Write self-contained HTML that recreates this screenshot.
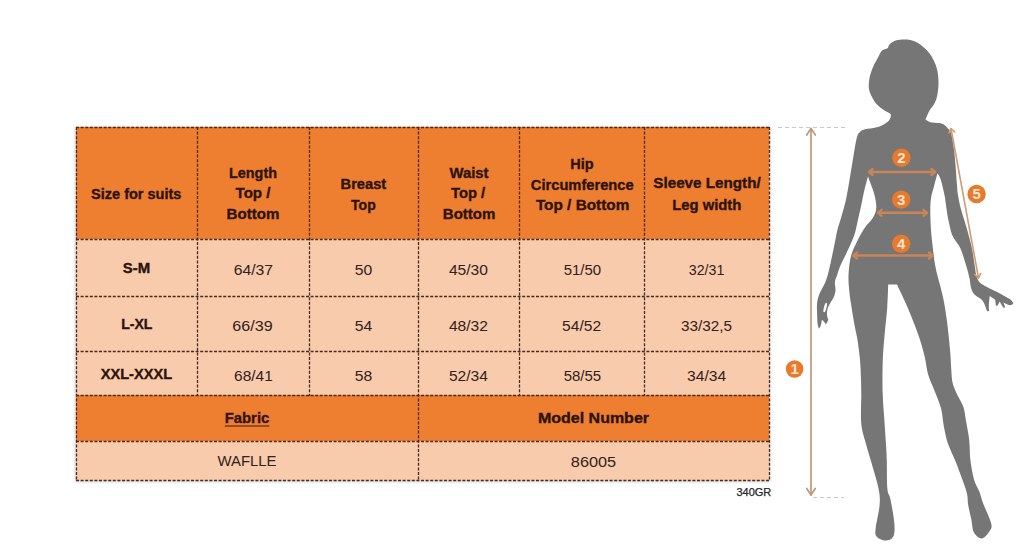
<!DOCTYPE html>
<html><head><meta charset="utf-8"><style>
html,body{margin:0;padding:0;background:#fff;}
body{width:1024px;height:548px;overflow:hidden;position:relative;}
svg{position:absolute;left:0;top:0;display:block;}
text{font-family:"Liberation Sans",sans-serif;}
</style></head><body>
<svg width="1024" height="548" viewBox="0 0 1024 548">
<defs><filter id="sh" x="-5%" y="-5%" width="110%" height="115%"><feGaussianBlur stdDeviation="1.5"/></filter></defs>
<rect x="75" y="127" width="695" height="355" fill="#000" opacity="0.18" filter="url(#sh)"/>
<rect x="76" y="127" width="693" height="112" fill="#EE7E30"/>
<rect x="76" y="239" width="693" height="156" fill="#F8CBAD"/>
<rect x="76" y="395" width="693" height="46" fill="#EE7E30"/>
<rect x="76" y="441" width="693" height="39" fill="#F8CBAD"/>
<line x1="76" y1="127.5" x2="770" y2="127.5" stroke="#4a2a1c" stroke-width="1.3" stroke-dasharray="3 1.6"/>
<line x1="76" y1="239.5" x2="770" y2="239.5" stroke="#4a2a1c" stroke-width="1.3" stroke-dasharray="3 1.6"/>
<line x1="76" y1="296.5" x2="770" y2="296.5" stroke="#4a2a1c" stroke-width="1.3" stroke-dasharray="3 1.6"/>
<line x1="76" y1="351.5" x2="770" y2="351.5" stroke="#4a2a1c" stroke-width="1.3" stroke-dasharray="3 1.6"/>
<line x1="76" y1="395.5" x2="770" y2="395.5" stroke="#4a2a1c" stroke-width="1.3" stroke-dasharray="3 1.6"/>
<line x1="76" y1="441.5" x2="770" y2="441.5" stroke="#4a2a1c" stroke-width="1.3" stroke-dasharray="3 1.6"/>
<line x1="76" y1="480.5" x2="770" y2="480.5" stroke="#4a2a1c" stroke-width="1.3" stroke-dasharray="3 1.6"/>
<line x1="197.5" y1="127" x2="197.5" y2="396" stroke="#4a2a1c" stroke-width="1.3" stroke-dasharray="3 1.6"/>
<line x1="309.5" y1="127" x2="309.5" y2="396" stroke="#4a2a1c" stroke-width="1.3" stroke-dasharray="3 1.6"/>
<line x1="519.5" y1="127" x2="519.5" y2="396" stroke="#4a2a1c" stroke-width="1.3" stroke-dasharray="3 1.6"/>
<line x1="644.5" y1="127" x2="644.5" y2="396" stroke="#4a2a1c" stroke-width="1.3" stroke-dasharray="3 1.6"/>
<line x1="418.5" y1="127" x2="418.5" y2="481" stroke="#4a2a1c" stroke-width="1.3" stroke-dasharray="3 1.6"/>
<line x1="76.5" y1="127" x2="76.5" y2="481" stroke="#4a2a1c" stroke-width="1.3" stroke-dasharray="3 1.6"/>
<line x1="769.5" y1="127" x2="769.5" y2="481" stroke="#4a2a1c" stroke-width="1.3" stroke-dasharray="3 1.6"/>
<text x="136.25" y="199.3" font-size="14.8" font-weight="bold" fill="#2c130b" text-anchor="middle" textLength="90.3" lengthAdjust="spacingAndGlyphs" stroke="#2c130b" stroke-width="0.35">Size for suits</text>
<text x="253" y="177.8" font-size="14.8" font-weight="bold" fill="#2c130b" text-anchor="middle" textLength="47.9" lengthAdjust="spacingAndGlyphs" stroke="#2c130b" stroke-width="0.35">Length</text>
<text x="253" y="198.3" font-size="14.8" font-weight="bold" fill="#2c130b" text-anchor="middle" textLength="34.9" lengthAdjust="spacingAndGlyphs" stroke="#2c130b" stroke-width="0.35">Top /</text>
<text x="253" y="219.2" font-size="14.8" font-weight="bold" fill="#2c130b" text-anchor="middle" textLength="52.8" lengthAdjust="spacingAndGlyphs" stroke="#2c130b" stroke-width="0.35">Bottom</text>
<text x="363.4" y="188.6" font-size="14.8" font-weight="bold" fill="#2c130b" text-anchor="middle" textLength="45.6" lengthAdjust="spacingAndGlyphs" stroke="#2c130b" stroke-width="0.35">Breast</text>
<text x="363.4" y="209.6" font-size="14.8" font-weight="bold" fill="#2c130b" text-anchor="middle" textLength="24.6" lengthAdjust="spacingAndGlyphs" stroke="#2c130b" stroke-width="0.35">Top</text>
<text x="469" y="178.3" font-size="14.8" font-weight="bold" fill="#2c130b" text-anchor="middle" textLength="39" lengthAdjust="spacingAndGlyphs" stroke="#2c130b" stroke-width="0.35">Waist</text>
<text x="468.1" y="198.3" font-size="14.8" font-weight="bold" fill="#2c130b" text-anchor="middle" textLength="34.2" lengthAdjust="spacingAndGlyphs" stroke="#2c130b" stroke-width="0.35">Top /</text>
<text x="469.1" y="219.2" font-size="14.8" font-weight="bold" fill="#2c130b" text-anchor="middle" textLength="52.6" lengthAdjust="spacingAndGlyphs" stroke="#2c130b" stroke-width="0.35">Bottom</text>
<text x="581.9" y="169.1" font-size="14.8" font-weight="bold" fill="#2c130b" text-anchor="middle" textLength="23.3" lengthAdjust="spacingAndGlyphs" stroke="#2c130b" stroke-width="0.35">Hip</text>
<text x="582.25" y="189.5" font-size="14.8" font-weight="bold" fill="#2c130b" text-anchor="middle" textLength="102.9" lengthAdjust="spacingAndGlyphs" stroke="#2c130b" stroke-width="0.35">Circumference</text>
<text x="582.6" y="210" font-size="14.8" font-weight="bold" fill="#2c130b" text-anchor="middle" textLength="93.4" lengthAdjust="spacingAndGlyphs" stroke="#2c130b" stroke-width="0.35">Top / Bottom</text>
<text x="707" y="188.4" font-size="14.8" font-weight="bold" fill="#2c130b" text-anchor="middle" textLength="107.3" lengthAdjust="spacingAndGlyphs" stroke="#2c130b" stroke-width="0.35">Sleeve Length/</text>
<text x="706.75" y="209.5" font-size="14.8" font-weight="bold" fill="#2c130b" text-anchor="middle" textLength="69.1" lengthAdjust="spacingAndGlyphs" stroke="#2c130b" stroke-width="0.35">Leg width</text>
<text x="136.4" y="273.4" font-size="14.6" font-weight="bold" fill="#2c130b" text-anchor="middle" textLength="27.4" lengthAdjust="spacingAndGlyphs" stroke="#2c130b" stroke-width="0.35">S-M</text>
<text x="253.4" y="275.2" font-size="14.5" font-weight="normal" fill="#33211a" text-anchor="middle" textLength="39.4" lengthAdjust="spacingAndGlyphs">64/37</text>
<text x="363.4" y="275.2" font-size="14.5" font-weight="normal" fill="#33211a" text-anchor="middle" textLength="17.5" lengthAdjust="spacingAndGlyphs">50</text>
<text x="468.4" y="275.2" font-size="14.5" font-weight="normal" fill="#33211a" text-anchor="middle" textLength="39" lengthAdjust="spacingAndGlyphs">45/30</text>
<text x="582.4" y="275.2" font-size="14.5" font-weight="normal" fill="#33211a" text-anchor="middle" textLength="37.5" lengthAdjust="spacingAndGlyphs">51/50</text>
<text x="706.6" y="275.2" font-size="14.5" font-weight="normal" fill="#33211a" text-anchor="middle" textLength="35.5" lengthAdjust="spacingAndGlyphs">32/31</text>
<text x="136.8" y="329.2" font-size="14.6" font-weight="bold" fill="#2c130b" text-anchor="middle" textLength="31.2" lengthAdjust="spacingAndGlyphs" stroke="#2c130b" stroke-width="0.35">L-XL</text>
<text x="252.5" y="331.2" font-size="14.5" font-weight="normal" fill="#33211a" text-anchor="middle" textLength="40.4" lengthAdjust="spacingAndGlyphs">66/39</text>
<text x="363.4" y="331.2" font-size="14.5" font-weight="normal" fill="#33211a" text-anchor="middle" textLength="17.5" lengthAdjust="spacingAndGlyphs">54</text>
<text x="468.4" y="331.2" font-size="14.5" font-weight="normal" fill="#33211a" text-anchor="middle" textLength="39" lengthAdjust="spacingAndGlyphs">48/32</text>
<text x="581.6" y="331.2" font-size="14.5" font-weight="normal" fill="#33211a" text-anchor="middle" textLength="39" lengthAdjust="spacingAndGlyphs">54/52</text>
<text x="706.4" y="331.2" font-size="14.5" font-weight="normal" fill="#33211a" text-anchor="middle" textLength="51" lengthAdjust="spacingAndGlyphs">33/32,5</text>
<text x="136.4" y="378.9" font-size="14.6" font-weight="bold" fill="#2c130b" text-anchor="middle" textLength="71.4" lengthAdjust="spacingAndGlyphs" stroke="#2c130b" stroke-width="0.35">XXL-XXXL</text>
<text x="253.4" y="380.7" font-size="14.5" font-weight="normal" fill="#33211a" text-anchor="middle" textLength="38.7" lengthAdjust="spacingAndGlyphs">68/41</text>
<text x="363.4" y="380.7" font-size="14.5" font-weight="normal" fill="#33211a" text-anchor="middle" textLength="17.5" lengthAdjust="spacingAndGlyphs">58</text>
<text x="468.4" y="380.7" font-size="14.5" font-weight="normal" fill="#33211a" text-anchor="middle" textLength="39" lengthAdjust="spacingAndGlyphs">52/34</text>
<text x="582.4" y="380.7" font-size="14.5" font-weight="normal" fill="#33211a" text-anchor="middle" textLength="37.5" lengthAdjust="spacingAndGlyphs">58/55</text>
<text x="706.6" y="380.7" font-size="14.5" font-weight="normal" fill="#33211a" text-anchor="middle" textLength="39" lengthAdjust="spacingAndGlyphs">34/34</text>
<text x="247" y="423.4" font-size="14.8" font-weight="bold" fill="#34121a" text-anchor="middle" textLength="44.5" lengthAdjust="spacingAndGlyphs" stroke="#34121a" stroke-width="0.35">Fabric</text>
<rect x="224.8" y="425.4" width="44.5" height="1.2" fill="#5a2a24"/>
<text x="593.5" y="423.4" font-size="14.8" font-weight="bold" fill="#2c130b" text-anchor="middle" textLength="111" lengthAdjust="spacingAndGlyphs" stroke="#2c130b" stroke-width="0.35">Model Number</text>
<text x="247" y="466.4" font-size="14.6" font-weight="normal" fill="#33211a" text-anchor="middle" textLength="59" lengthAdjust="spacingAndGlyphs">WAFLLE</text>
<text x="593.5" y="467.2" font-size="14.5" font-weight="normal" fill="#33211a" text-anchor="middle" textLength="45.3" lengthAdjust="spacingAndGlyphs">86005</text>
<text x="753.9" y="496" font-size="10.6" font-weight="normal" fill="#262626" text-anchor="middle" textLength="34.9" lengthAdjust="spacingAndGlyphs" stroke="#262626" stroke-width="0.25">340GR</text>
<path d="M907.5,39.6 C911.1,40.1 914.8,40.9 918.4,43.2 C922.0,45.5 926.3,49.2 929.4,53.3 C932.5,57.4 935.2,63.0 936.7,67.9 C938.2,72.8 938.4,78.0 938.5,82.5 C938.6,87.0 937.9,91.6 937.3,95.0 C936.7,98.4 936.0,100.3 934.7,102.9 C933.4,105.5 930.9,108.0 929.4,110.8 C927.9,113.6 925.5,119.6 925.5,119.6 C925.5,119.6 928.0,121.6 930.3,122.2 C932.5,122.8 936.6,122.6 939.0,123.1 C941.4,123.5 942.9,124.0 944.4,124.9 C945.9,125.8 946.8,127.1 947.9,128.4 C949.0,129.8 950.0,129.8 951.0,133.0 C952.0,136.2 953.0,142.1 953.7,147.4 C954.5,152.7 955.0,158.7 955.5,165.0 C956.0,171.3 956.6,180.0 957.0,185.0 C957.4,190.0 957.4,191.2 958.0,195.0 C958.6,198.8 959.5,203.5 960.6,207.8 C961.7,212.1 963.1,216.3 964.4,220.6 C965.7,224.9 966.9,228.7 968.2,233.4 C969.5,238.1 970.9,243.4 972.0,248.7 C973.1,254.0 973.9,260.4 974.6,265.0 C975.4,269.6 975.6,273.1 976.5,276.0 C977.4,278.9 978.0,280.6 979.7,282.4 C981.5,284.2 984.3,285.4 987.0,286.9 C989.7,288.4 993.2,290.0 996.1,291.5 C999.0,293.0 1001.9,294.6 1004.3,296.0 C1006.7,297.4 1009.2,298.5 1010.7,299.7 C1012.2,300.9 1013.4,303.4 1013.4,303.4 C1013.4,303.4 1011.5,305.4 1009.8,305.2 C1008.1,305.0 1003.4,302.4 1003.4,302.4 C1003.4,302.4 1005.2,307.0 1005.2,307.0 C1005.2,307.0 1004.3,308.4 1003.4,307.5 C1002.5,306.6 999.7,301.5 999.7,301.5 C999.7,301.5 997.9,305.2 997.9,305.2 C997.9,305.2 996.5,306.5 996.1,305.6 C995.7,304.7 995.2,299.7 995.2,299.7 C995.2,299.7 989.7,296.0 989.7,296.0 C989.7,296.0 988.9,303.6 988.8,306.0 C988.7,308.4 989.2,310.7 989.2,310.7 C989.2,310.7 987.8,311.9 987.0,310.7 C986.2,309.5 985.3,305.4 984.2,303.4 C983.1,301.4 982.3,300.3 980.6,298.8 C978.9,297.3 975.8,296.0 974.2,294.2 C972.6,292.4 971.8,290.4 971.0,287.8 C970.2,285.2 970.4,282.5 969.6,278.7 C968.8,274.9 967.5,270.0 966.0,265.0 C964.5,260.0 962.4,252.9 960.6,248.7 C958.8,244.5 956.5,242.6 955.0,240.0 C953.5,237.4 952.5,235.9 951.6,233.4 C950.7,230.9 950.1,227.7 949.5,225.0 C948.9,222.3 948.4,220.3 947.8,217.0 C947.2,213.7 946.5,208.7 946.0,205.0 C945.5,201.3 945.4,199.3 944.5,195.0 C943.6,190.7 941.8,182.6 940.6,179.0 C939.4,175.4 937.4,173.4 937.4,173.4 C937.4,173.4 935.3,181.4 934.2,185.6 C933.1,189.8 931.6,194.2 931.0,198.4 C930.4,202.6 930.3,205.7 930.3,211.0 C930.3,216.3 930.6,224.3 931.0,230.0 C931.4,235.7 931.9,239.7 932.5,245.0 C933.1,250.3 933.8,257.0 934.6,262.0 C935.4,267.0 936.3,270.8 937.3,275.0 C938.3,279.2 939.4,282.5 940.5,287.0 C941.6,291.5 942.8,295.6 944.0,302.0 C945.2,308.4 946.5,317.1 947.5,325.6 C948.5,334.1 949.7,345.6 950.3,353.0 C950.9,360.4 950.9,365.0 951.3,370.0 C951.7,375.0 951.6,378.8 952.6,382.8 C953.6,386.9 955.2,390.3 957.0,394.3 C958.8,398.3 961.9,402.6 963.4,407.0 C964.9,411.4 965.0,415.5 966.0,421.0 C967.0,426.5 968.5,433.5 969.2,440.0 C969.9,446.5 969.6,453.4 970.4,460.0 C971.2,466.6 972.5,474.1 974.0,479.4 C975.5,484.7 978.0,488.1 979.5,492.0 C981.0,495.9 981.1,497.9 983.0,503.0 C984.9,508.1 989.8,518.2 991.0,522.8 C992.2,527.4 991.5,528.0 990.0,530.6 C988.5,533.2 984.7,538.2 982.0,538.5 C979.3,538.8 975.8,535.9 974.0,532.6 C972.2,529.3 972.2,523.4 971.2,518.8 C970.2,514.2 969.0,509.6 968.2,505.0 C967.4,500.4 968.3,497.9 966.3,491.0 C964.3,484.1 958.9,470.3 956.4,463.6 C953.9,456.9 952.6,454.9 951.0,451.0 C949.4,447.1 948.0,444.3 946.8,440.0 C945.6,435.7 944.6,430.3 943.6,425.0 C942.6,419.7 942.6,414.3 941.0,408.3 C939.4,402.3 936.0,394.7 933.8,389.0 C931.6,383.3 929.5,379.5 928.0,374.0 C926.5,368.5 926.1,362.6 924.5,356.0 C922.9,349.4 921.1,342.9 918.3,334.7 C915.4,326.5 911.0,315.4 907.4,307.0 C903.8,298.6 896.9,284.6 896.9,284.6 C896.9,284.6 888.2,284.6 888.2,284.6 C888.2,284.6 887.9,298.6 887.3,307.0 C886.7,315.4 885.4,325.5 884.6,334.7 C883.8,343.9 883.0,352.0 882.7,362.0 C882.4,372.0 882.4,385.1 882.7,394.6 C883.0,404.1 883.8,410.8 884.3,419.0 C884.8,427.2 885.6,437.2 886.0,444.0 C886.4,450.8 886.6,452.5 886.8,460.0 C887.0,467.5 886.8,482.5 887.4,489.0 C888.0,495.5 889.2,493.4 890.4,499.0 C891.5,504.6 893.8,516.5 894.3,522.8 C894.8,529.0 894.8,533.5 893.3,536.5 C891.8,539.5 888.3,540.5 885.5,540.5 C882.7,540.5 878.2,538.5 876.6,536.5 C875.0,534.5 875.1,534.0 875.6,528.7 C876.1,523.5 879.1,511.6 879.6,505.0 C880.1,498.4 879.9,495.9 878.6,489.0 C877.3,482.1 873.8,471.1 871.7,463.6 C869.6,456.1 867.7,450.6 866.0,444.0 C864.3,437.4 862.1,432.2 861.3,424.0 C860.5,415.8 861.3,401.9 861.3,394.6 C861.2,387.3 861.2,385.8 861.0,380.0 C860.8,374.2 860.6,366.7 860.0,360.0 C859.4,353.3 858.4,345.8 857.5,340.0 C856.6,334.2 855.5,330.5 854.5,325.0 C853.5,319.5 852.3,312.3 851.5,307.0 C850.7,301.7 850.0,298.3 849.5,293.0 C849.0,287.7 848.2,281.2 848.5,275.0 C848.8,268.8 849.5,261.8 851.0,256.0 C852.5,250.2 855.5,244.8 857.8,240.0 C860.1,235.2 862.6,231.1 865.0,227.5 C867.4,223.9 870.5,221.5 872.4,218.4 C874.3,215.3 875.8,212.6 876.2,209.0 C876.6,205.4 875.8,200.8 875.0,197.0 C874.2,193.2 872.7,189.4 871.5,186.0 C870.3,182.6 868.0,176.5 868.0,176.5 C868.0,176.5 865.3,186.4 864.2,191.0 C863.1,195.6 862.4,199.7 861.5,204.0 C860.6,208.3 859.7,212.1 858.7,216.6 C857.7,221.1 856.6,226.9 855.5,231.0 C854.4,235.1 853.5,237.3 852.0,241.0 C850.5,244.7 848.5,248.8 846.5,253.0 C844.5,257.2 841.5,262.9 840.0,266.5 C838.5,270.1 838.1,272.1 837.3,274.7 C836.4,277.3 835.2,279.3 834.9,281.9 C834.6,284.5 835.7,287.6 835.5,290.2 C835.3,292.8 834.6,295.1 833.7,297.3 C832.8,299.5 831.2,301.2 830.2,303.2 C829.2,305.1 828.0,307.0 827.5,309.0 C827.0,311.0 826.9,313.2 827.0,315.0 C827.1,316.8 828.4,319.8 828.4,319.8 C828.4,319.8 826.0,324.6 826.0,324.6 C826.0,324.6 824.5,322.3 823.8,321.5 C823.1,320.7 821.9,319.8 821.9,319.8 C821.9,319.8 821.2,324.3 820.7,325.8 C820.2,327.3 818.9,328.7 818.9,328.7 C818.9,328.7 818.0,326.9 817.7,324.6 C817.4,322.3 817.2,318.6 817.1,315.0 C817.0,311.4 816.7,306.8 817.1,303.2 C817.5,299.6 818.1,297.2 819.5,293.7 C820.9,290.1 823.8,285.8 825.4,281.9 C827.0,277.9 827.6,275.6 829.0,270.0 C830.4,264.4 832.3,254.9 833.7,248.2 C835.1,241.5 836.2,235.0 837.4,230.0 C838.6,225.0 839.5,223.4 841.0,218.0 C842.5,212.6 844.6,206.4 846.4,197.6 C848.2,188.8 850.3,174.8 852.0,165.0 C853.7,155.2 855.2,144.5 856.5,139.0 C857.8,133.5 858.5,133.5 860.0,131.9 C861.5,130.3 862.7,130.0 865.3,129.3 C867.9,128.6 872.9,128.2 875.8,127.5 C878.7,126.8 880.6,126.1 882.8,124.9 C885.0,123.7 887.7,122.0 889.0,120.5 C890.3,119.0 890.6,117.2 890.8,116.0 C890.9,114.8 891.1,114.5 889.9,113.5 C888.7,112.5 885.9,111.5 883.7,110.0 C881.6,108.5 878.9,106.5 877.0,104.5 C875.1,102.5 873.8,100.6 872.5,98.0 C871.2,95.4 869.5,92.3 869.0,89.0 C868.5,85.7 868.8,81.8 869.5,78.0 C870.2,74.2 872.0,69.5 873.5,66.0 C875.0,62.5 876.9,59.5 878.3,56.9 C879.7,54.3 880.5,51.9 882.0,50.5 C883.5,49.1 886.2,49.3 887.5,48.3 C888.8,47.3 888.0,45.8 889.5,44.5 C891.0,43.2 893.5,41.1 896.5,40.3 C899.5,39.5 903.9,39.1 907.5,39.6Z" fill="#767676"/>
<ellipse cx="825.2" cy="307.5" rx="1.3" ry="5" transform="rotate(14 825.2 307.5)" fill="#fff"/>
<line x1="869" y1="172" x2="935" y2="172" stroke="#C98458" stroke-width="2.4" stroke-linecap="round"/>
<polyline points="931.5,175.0 935.0,172.0 931.5,169.0" fill="none" stroke="#C98458" stroke-width="2.4" stroke-linecap="round" stroke-linejoin="round"/>
<polyline points="872.5,175.0 869.0,172.0 872.5,169.0" fill="none" stroke="#C98458" stroke-width="2.4" stroke-linecap="round" stroke-linejoin="round"/>
<line x1="878" y1="212.8" x2="927" y2="212.8" stroke="#C98458" stroke-width="2.4" stroke-linecap="round"/>
<polyline points="923.5,215.8 927.0,212.8 923.5,209.8" fill="none" stroke="#C98458" stroke-width="2.4" stroke-linecap="round" stroke-linejoin="round"/>
<polyline points="881.5,215.8 878.0,212.8 881.5,209.8" fill="none" stroke="#C98458" stroke-width="2.4" stroke-linecap="round" stroke-linejoin="round"/>
<line x1="853.5" y1="255.5" x2="932.5" y2="255.5" stroke="#C98458" stroke-width="2.4" stroke-linecap="round"/>
<polyline points="929.0,258.5 932.5,255.5 929.0,252.5" fill="none" stroke="#C98458" stroke-width="2.4" stroke-linecap="round" stroke-linejoin="round"/>
<polyline points="857.0,258.5 853.5,255.5 857.0,252.5" fill="none" stroke="#C98458" stroke-width="2.4" stroke-linecap="round" stroke-linejoin="round"/>
<line x1="951" y1="128.5" x2="978.5" y2="278" stroke="#D29A70" stroke-width="1.6" stroke-linecap="round"/>
<polyline points="974.8,274.6 978.5,278.0 980.7,273.5" fill="none" stroke="#D29A70" stroke-width="1.6" stroke-linecap="round" stroke-linejoin="round"/>
<polyline points="948.8,133.0 951.0,128.5 954.7,131.9" fill="none" stroke="#D29A70" stroke-width="1.6" stroke-linecap="round" stroke-linejoin="round"/>
<line x1="811" y1="128.5" x2="811" y2="495" stroke="#BE9878" stroke-width="1.7" stroke-linecap="round"/>
<polyline points="806.7,488.5 811.0,495.0 815.3,488.5" fill="none" stroke="#BE9878" stroke-width="1.7" stroke-linecap="round" stroke-linejoin="round"/>
<polyline points="806.7,135.0 811.0,128.5 815.3,135.0" fill="none" stroke="#BE9878" stroke-width="1.7" stroke-linecap="round" stroke-linejoin="round"/>
<line x1="778" y1="127.5" x2="846" y2="127.5" stroke="#c9c9c9" stroke-width="1" stroke-dasharray="4 3"/>
<line x1="813" y1="497.5" x2="844" y2="497.5" stroke="#c9c9c9" stroke-width="1" stroke-dasharray="4 3"/>
<circle cx="901.4" cy="157.8" r="9.2" fill="#E9792C"/>
<text x="901.4" y="163.20000000000002" font-size="15" font-weight="bold" fill="#FBE7D2" text-anchor="middle">2</text>
<circle cx="901.2" cy="199.6" r="9.2" fill="#E9792C"/>
<text x="901.2" y="205.0" font-size="15" font-weight="bold" fill="#FBE7D2" text-anchor="middle">3</text>
<circle cx="901.2" cy="243.8" r="9.2" fill="#E9792C"/>
<text x="901.2" y="249.20000000000002" font-size="15" font-weight="bold" fill="#FBE7D2" text-anchor="middle">4</text>
<circle cx="976.6" cy="194" r="9.2" fill="#E9792C"/>
<text x="976.6" y="199.4" font-size="15" font-weight="bold" fill="#FBE7D2" text-anchor="middle">5</text>
<circle cx="794.6" cy="369" r="8.8" fill="#E9792C"/>
<text x="794.6" y="374.4" font-size="15" font-weight="bold" fill="#FBE7D2" text-anchor="middle">1</text>
</svg>
</body></html>
